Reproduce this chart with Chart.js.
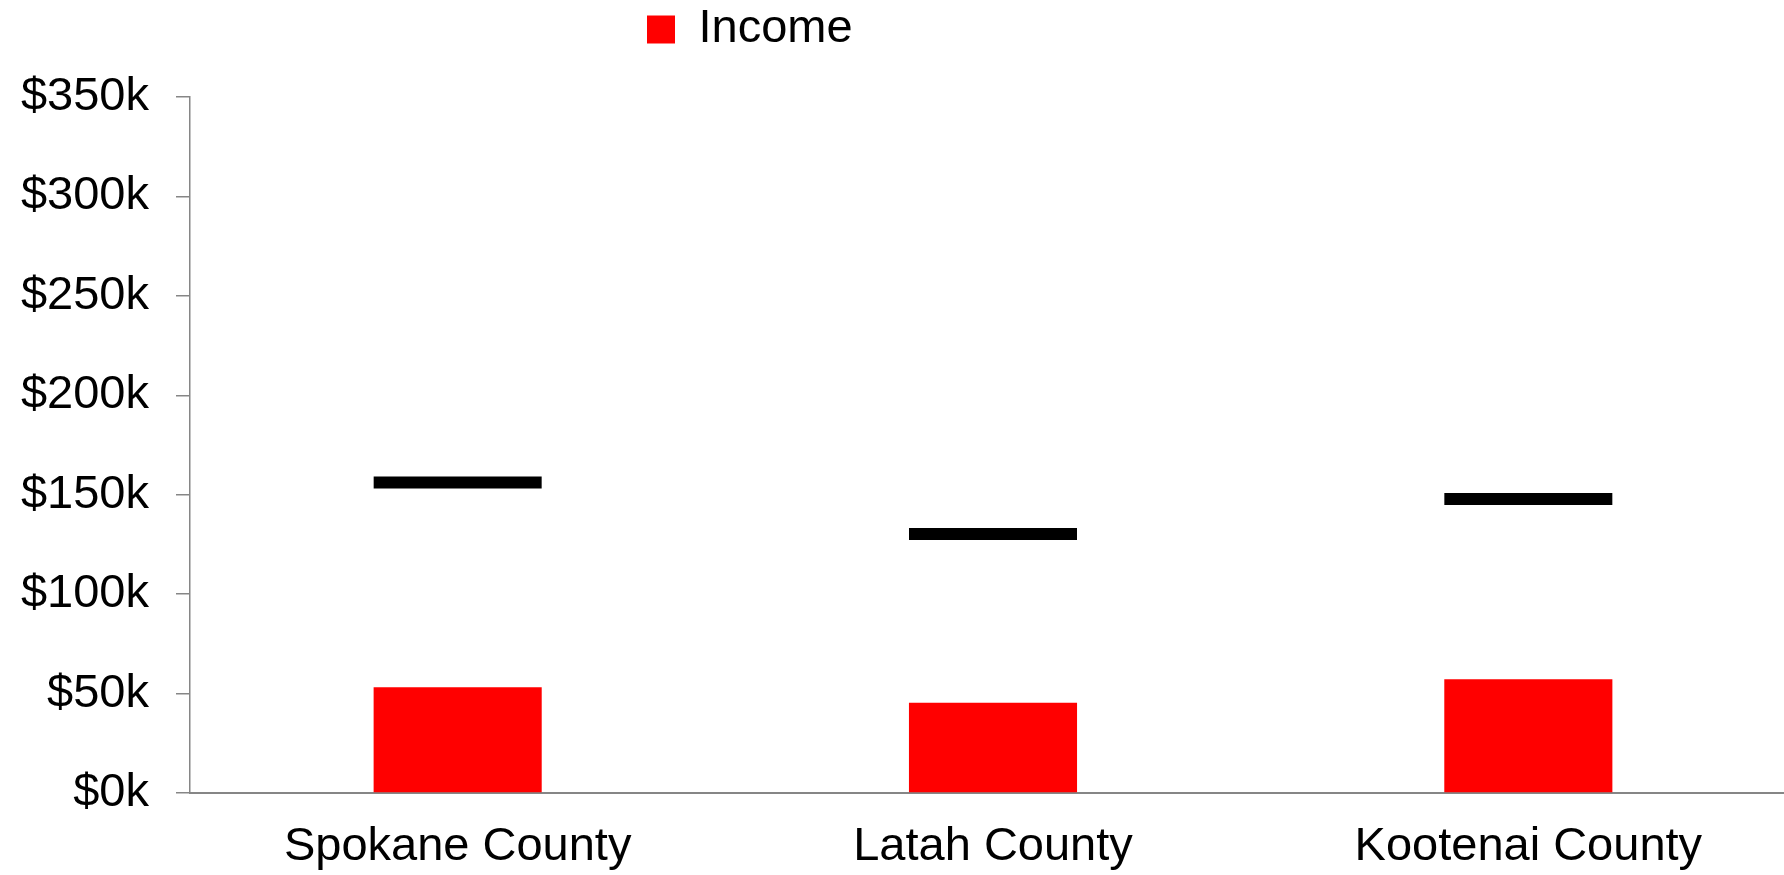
<!DOCTYPE html>
<html>
<head>
<meta charset="utf-8">
<script src="https://cdn.jsdelivr.net/npm/chart.js@4.4.0/dist/chart.umd.min.js"></script>
<style>
  html, body { margin: 0; padding: 0; background: #fff; overflow: hidden; }
  #wrap { width: 1796px; height: 875px; position: relative; }
</style>
</head>
<body>
<div id="wrap"><canvas id="chart"></canvas></div>
<script>
// values (dollars)
const counties = ['Spokane County', 'Latah County', 'Kootenai County'];
const income = [53200, 45400, 57200];
const blackMarks = [156200, 130300, 147800];
const yTicks = [0, 50000, 100000, 150000, 200000, 250000, 300000, 350000];

const AXIS_GREY = '#868686';
const FONT = '"Liberation Sans", Arial, sans-serif';
const TOP_GAP = 30;

Chart.defaults.font.family = FONT;
Chart.defaults.font.size = 47;
Chart.defaults.color = '#000';

// legend sits left of centre and close to the top edge in the original
const legendShift = {
  id: 'legendShift',
  afterLayout(chart) {
    const lg = chart.legend;
    lg.left += 618;
    lg.right += 618;
    lg.top -= TOP_GAP + 4;
    lg.bottom -= TOP_GAP + 4;
  }
};

const ctx = document.getElementById('chart').getContext('2d');
new Chart(ctx, {
  type: 'bar',
  data: {
    labels: counties,
    datasets: [
      {
        label: 'Income',
        data: income,
        backgroundColor: '#FF0000',
        borderWidth: 0,
        categoryPercentage: 1,
        barPercentage: 0.314,
        order: 2
      },
      {
        type: 'line',
        label: 'marks',
        data: blackMarks,
        showLine: false,
        pointStyle: 'line',
        pointRadius: 84,
        pointHoverRadius: 84,
        pointBorderWidth: 12,
        pointHoverBorderWidth: 12,
        pointBorderColor: '#000',
        pointBackgroundColor: '#000',
        order: 1
      }
    ]
  },
  options: {
    responsive: true,
    maintainAspectRatio: false,
    animation: false,
    layout: { autoPadding: false, padding: { left: 19, right: 0, top: TOP_GAP, bottom: 0 } },
    plugins: {
      tooltip: { enabled: false },
      legend: {
        position: 'top',
        align: 'start',
        labels: {
          boxWidth: 28,
          boxHeight: 28,
          padding: 10,
          color: '#000',
          font: { size: 47, family: FONT },
          filter: (item) => item.text === 'Income'
        }
      }
    },
    scales: {
      x: {
        grid: { display: false, drawTicks: false, tickLength: 0 },
        border: { display: true, color: AXIS_GREY, width: 2 },
        ticks: { padding: 26, color: '#000', font: { size: 47 } },
        afterFit: (scale) => { scale.height = 82; }
      },
      y: {
        min: 0,
        max: 350000,
        afterBuildTicks: (axis) => { axis.ticks = yTicks.map(v => ({ value: v })); },
        grid: {
          drawOnChartArea: false,
          drawTicks: true,
          tickLength: 14,
          color: AXIS_GREY,
          lineWidth: 1.5
        },
        border: { display: true, color: AXIS_GREY, width: 1.5 },
        ticks: {
          padding: 27,
          color: '#000',
          font: { size: 47 },
          callback: (v) => '$' + (v / 1000) + 'k'
        },
        afterFit: (scale) => { scale.width = 171; }
      }
    }
  },
  plugins: [legendShift]
});
</script>
</body>
</html>
